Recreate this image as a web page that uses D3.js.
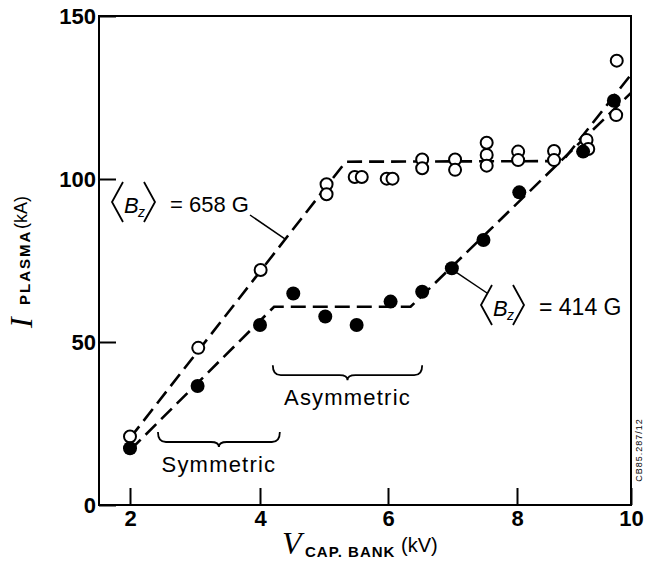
<!DOCTYPE html>
<html><head><meta charset="utf-8">
<script src="https://cdn.jsdelivr.net/npm/d3@7"></script>
<style>body{margin:0;background:#fff}svg{display:block}</style>
</head><body><svg id="c" width="645" height="563"></svg>
<script>
// ---- data ----
const xTicks = [2, 4, 6, 8, 10];
const yTicks = [0, 50, 100, 150];

// <Bz> = 658 G (open circles)
const openV = [2.0, 3.05, 4.01, 5.04, 5.04, 5.48, 5.59, 5.98, 6.07, 6.53, 6.53, 7.04, 7.04, 7.53, 7.53, 7.53, 8.02, 8.02, 8.65, 8.65, 9.22, 9.25, 9.75, 9.74];
const openI = [21.0, 48.2, 72.1, 98.4, 95.3, 100.6, 100.6, 100.1, 100.1, 106.0, 103.3, 106.0, 102.8, 111.1, 107.4, 104.1, 108.4, 105.8, 108.6, 105.8, 112.0, 109.2, 136.3, 119.6];

// <Bz> = 414 G (filled circles)
const filledV = [2.0, 3.04, 4.0, 4.52, 5.02, 5.51, 6.04, 6.53, 6.99, 7.48, 8.04, 9.16, 9.70];
const filledI = [17.4, 36.5, 55.2, 64.9, 57.8, 55.2, 62.4, 65.4, 72.6, 81.3, 95.9, 108.4, 124.0];

// dashed trend lines
const fitOpenV = [2.0, 5.34, 8.8, 10.0];
const fitOpenI = [20.5, 105.3, 105.5, 132.0];
const fitFilledV = [2.0, 4.22, 6.35, 10.0];
const fitFilledI = [16.8, 60.8, 60.8, 126.4];

// annotation anchors (data coordinates)
const labelOpen = "= 658 G";
const labelFilled = "= 414 G";
const braceNames = ["Symmetric", "Asymmetric"];
const braceFrom = [2.43, 4.2];
const braceTo = [4.31, 6.53];
const braceLevel = [22.4, 42.9];

// ---- chart ----
const svg = d3.select("#c");
const SANS = "'Liberation Sans', Arial, Helvetica, sans-serif";
const SERIF = "'Liberation Serif', 'Times New Roman', serif";

const x = d3.scaleLinear().domain([1.5, 2, 4, 6, 8, 10]).range([99, 130, 260, 388, 517, 631]);
const y = d3.scaleLinear().domain([0, 150]).range([505, 16]);

// frame
svg.append("rect")
  .attr("x", x.range()[0]).attr("y", y(150))
  .attr("width", x(10) - x.range()[0]).attr("height", y(0) - y(150))
  .attr("fill", "none").attr("stroke", "#000").attr("stroke-width", 2);

// axes
const gx = svg.append("g").attr("transform", `translate(0,${y(0)})`)
  .call(d3.axisBottom(x).tickValues(xTicks).tickSize(-17).tickPadding(5).tickFormat(d3.format("d")));
const gy = svg.append("g").attr("transform", `translate(${x.range()[0]},0)`)
  .call(d3.axisLeft(y).tickValues(yTicks).tickSize(-17).tickPadding(3).tickFormat(d3.format("d")));
[gx, gy].forEach(g => {
  g.select(".domain").remove();
  g.selectAll(".tick line").attr("stroke", "#000").attr("stroke-width", 2);
  g.selectAll(".tick text").attr("font-family", SANS).attr("font-size", 22)
    .attr("font-weight", "bold").attr("fill", "#000");
});

// dashed lines
const line = d3.line().x(d => x(d[0])).y(d => y(d[1]));
[[fitOpenV, fitOpenI], [fitFilledV, fitFilledI]].forEach(([vs, is]) => {
  svg.append("path").datum(d3.zip(vs, is)).attr("d", line)
    .attr("fill", "none").attr("stroke", "#000").attr("stroke-width", 2.6)
    .attr("stroke-dasharray", "15,7");
});

// points
svg.append("g").selectAll("circle").data(d3.zip(openV, openI)).join("circle")
  .attr("cx", d => x(d[0])).attr("cy", d => y(d[1])).attr("r", 6)
  .attr("fill", "#fff").attr("stroke", "#000").attr("stroke-width", 2);
svg.append("g").selectAll("circle").data(d3.zip(filledV, filledI)).join("circle")
  .attr("cx", d => x(d[0])).attr("cy", d => y(d[1])).attr("r", 7)
  .attr("fill", "#000");

// braces
braceNames.forEach((name, i) => {
  const x0 = x(braceFrom[i]), x1 = x(braceTo[i]), yt = y(braceLevel[i]);
  const yb = yt + 10, xm = (x0 + x1) / 2;
  const p = `M${x0},${yt} Q${x0},${yb} ${x0 + 8},${yb} L${xm - 8},${yb} Q${xm},${yb} ${xm},${yb + 5} ` +
            `Q${xm},${yb} ${xm + 8},${yb} L${x1 - 8},${yb} Q${x1},${yb} ${x1},${yt}`;
  svg.append("path").attr("d", p).attr("fill", "none").attr("stroke", "#000").attr("stroke-width", 1.8);
  svg.append("text").attr("x", xm).attr("y", yb + 30).attr("text-anchor", "middle")
    .attr("font-family", SANS).attr("font-size", 22).attr("letter-spacing", 1.2)
    .attr("fill", "#000").text(name);
});

// <Bz> labels
function bzLabel(lx, cy, text, fs) {
  const g = svg.append("g");
  const h = 20;
  g.append("path").attr("d", `M${lx + 11},${cy - h} L${lx},${cy} L${lx + 11},${cy + h}`)
    .attr("fill", "none").attr("stroke", "#000").attr("stroke-width", 1.8);
  g.append("text").attr("x", lx + 12).attr("y", cy + 11).attr("font-family", SANS)
    .attr("font-style", "italic").attr("font-size", 22).attr("fill", "#000").text("B");
  g.append("text").attr("x", lx + 26).attr("y", cy + 15).attr("font-family", SANS)
    .attr("font-style", "italic").attr("font-size", 14).attr("fill", "#000").text("z");
  g.append("path").attr("d", `M${lx + 32},${cy - h} L${lx + 43},${cy} L${lx + 32},${cy + h}`)
    .attr("fill", "none").attr("stroke", "#000").attr("stroke-width", 1.8);
  g.append("text").attr("x", lx + 58).attr("y", cy + 10).attr("font-family", SANS)
    .attr("font-size", fs).attr("fill", "#000").text(text);
}
bzLabel(112, 202, labelOpen, 22);
bzLabel(481, 305, labelFilled, 23);

// leader lines
svg.append("line").attr("x1", 250).attr("y1", 215).attr("x2", x(4.4)).attr("y2", y(81.5))
  .attr("stroke", "#000").attr("stroke-width", 1.5);
svg.append("line").attr("x1", x(filledV[8]) + 3).attr("y1", y(filledI[8]) + 3).attr("x2", 487).attr("y2", 293)
  .attr("stroke", "#000").attr("stroke-width", 1.5);

// x axis title
const xt = svg.append("text").attr("y", 554).attr("fill", "#000");
xt.append("tspan").attr("x", 282).attr("font-family", SERIF).attr("font-style", "italic").attr("font-size", 32).text("V");
xt.append("tspan").attr("x", 305).attr("y", 557).attr("font-family", SANS).attr("font-weight", "bold")
  .attr("font-size", 15).attr("letter-spacing", 1).text("CAP. BANK");
xt.append("tspan").attr("x", 401).attr("y", 552).attr("font-family", SANS).attr("font-size", 20).text("(kV)");

// y axis title
const yt = svg.append("g").attr("transform", "translate(32,330) rotate(-90)");
yt.append("text").attr("x", 2).attr("y", 0).attr("font-family", SERIF).attr("font-style", "italic")
  .attr("font-size", 32).attr("fill", "#000").text("I");
yt.append("text").attr("x", 25).attr("y", -2).attr("font-family", SANS).attr("font-weight", "bold")
  .attr("font-size", 15).attr("letter-spacing", 2).attr("fill", "#000").text("PLASMA");
yt.append("text").attr("x", 101).attr("y", -5).attr("font-family", SANS)
  .attr("font-size", 18).attr("fill", "#000").text("(kA)");

// figure code
svg.append("text").attr("transform", "translate(642,450) rotate(-90)").attr("text-anchor", "middle")
  .attr("font-family", SANS).attr("font-size", 9).attr("letter-spacing", 1).attr("fill", "#000")
  .text("CB85.287/12");
</script></body></html>
